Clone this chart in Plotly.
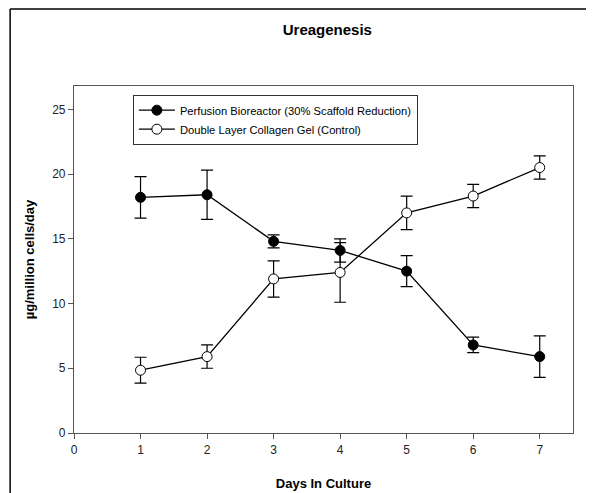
import plotly.graph_objects as go

days = [1, 2, 3, 4, 5, 6, 7]
perfusion = [18.2, 18.4, 14.8, 14.1, 12.5, 6.8, 5.9]
perfusion_err = [1.6, 1.9, 0.5, 0.9, 1.2, 0.6, 1.6]
control = [4.85, 5.9, 11.9, 12.4, 17.0, 18.3, 20.5]
control_err = [1.0, 0.9, 1.4, 2.3, 1.3, 0.9, 0.9]

fig = go.Figure()
fig.add_trace(go.Scatter(
    x=days, y=perfusion, mode="lines+markers",
    name="Perfusion Bioreactor (30% Scaffold Reduction)",
    line=dict(color="black", width=1.3),
    marker=dict(symbol="circle", size=10, color="black", line=dict(color="black", width=1)),
    error_y=dict(type="data", array=perfusion_err, color="black", thickness=1.2, width=6),
))
fig.add_trace(go.Scatter(
    x=days, y=control, mode="lines+markers",
    name="Double Layer Collagen Gel (Control)",
    line=dict(color="black", width=1.3),
    marker=dict(symbol="circle", size=10, color="white", line=dict(color="black", width=1)),
    error_y=dict(type="data", array=control_err, color="black", thickness=1.2, width=6),
))

# outer frame (left + top edges)
fig.add_shape(type="line", xref="paper", yref="paper", x0=-0.128, x1=-0.128, y0=-0.2, y1=1.222,
              line=dict(color="black", width=1.5))
fig.add_shape(type="line", xref="paper", yref="paper", x0=-0.128, x1=1.05, y0=1.222, y1=1.222,
              line=dict(color="black", width=1.5))

axis_common = dict(showline=True, linecolor="#555", linewidth=1.2, mirror=True, automargin=False,
                   ticks="outside", ticklen=5, tickcolor="#555", showgrid=False, zeroline=False,
                   tickfont=dict(family="Liberation Sans, Arial", size=12, color="#222"))
fig.update_xaxes(range=[0, 7.5], dtick=1,
                 title=dict(text="<b>Days In Culture</b>", font=dict(size=13, color="black"), standoff=23),
                 **axis_common)
fig.update_yaxes(range=[0, 26.8], dtick=5,
                 title=dict(text="<b>µg/million cells/day</b>", font=dict(size=13, color="black"), standoff=14),
                 **axis_common)

fig.update_layout(
    width=586, height=485,
    margin=dict(l=66, r=21, t=78, b=60),
    paper_bgcolor="white", plot_bgcolor="white",
    font=dict(family="Liberation Sans, Arial", color="black"),
    title=dict(text="<b>Ureagenesis</b>", x=0.545, xanchor="center", y=0.955, yanchor="middle",
               font=dict(size=15, color="black")),
    showlegend=True,
    legend=dict(x=0.118, y=0.975, xanchor="left", yanchor="top",
                bordercolor="#333", borderwidth=1, bgcolor="white",
                font=dict(size=11.2, color="black"), tracegroupgap=0, itemwidth=36),
)

fig.write_html("out.html")
